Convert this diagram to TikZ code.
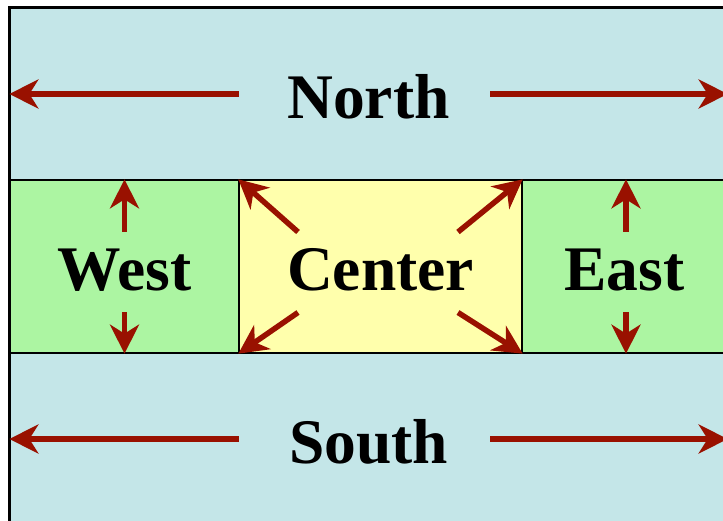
\documentclass[tikz,border=0pt]{standalone}
\usepackage{fontspec}
\setmainfont{Liberation Serif}
\usetikzlibrary{arrows.meta}
\definecolor{bandblue}{RGB}{196,230,232}
\definecolor{sidegreen}{RGB}{172,245,162}
\definecolor{midyellow}{RGB}{255,255,172}
\definecolor{arrowred}{RGB}{153,17,0}
\tikzset{
  region/.style={draw=black, line width=1.3pt, inner sep=0pt,
    text height=48.5pt, text depth=0pt,
    font=\fontsize{63.5}{63.5}\selectfont\bfseries},
  dir/.style={arrowred, line width=5.5pt,
    -{Stealth[length=29pt,width=29pt,inset=9pt]}},
}
\begin{document}
\begin{tikzpicture}[x=1pt,y=-1pt]
\useasboundingbox (0,0) rectangle (723,521);
\clip (0,0) rectangle (723,521);
% the five regions
\node[region, fill=bandblue, minimum width=717pt, minimum height=172pt] (north) at (368.5,94) {North};
\node[region, fill=bandblue, minimum width=717pt, minimum height=172pt] (south) at (368.5,439) {South};
\node[region, fill=sidegreen, minimum width=229pt, minimum height=173pt] (west) at (124.5,266.5) {West};
\node[region, fill=midyellow, minimum width=283pt, minimum height=173pt] (center) at (380.5,266.5) {Center};
\node[region, fill=sidegreen, minimum width=205pt, minimum height=173pt] (east) at (624.5,266.5) {East};
\draw[line width=2pt] (north.north west) rectangle (south.south east);
% stretch directions
\draw[dir] ([xshift=-130pt]north.center) -- (north.west);
\draw[dir] ([xshift=121.5pt]north.center) -- (north.east);
\draw[dir] ([xshift=-130pt]south.center) -- (south.west);
\draw[dir] ([xshift=121.5pt]south.center) -- (south.east);
\draw[dir] ([yshift=34.5pt]west.center) -- (west.north);
\draw[dir] ([yshift=-46pt]west.center) -- (west.south);
\draw[dir] ([xshift=1.5pt,yshift=34.5pt]east.center) -- ([xshift=1.5pt]east.north);
\draw[dir] ([xshift=1.5pt,yshift=-46pt]east.center) -- ([xshift=1.5pt]east.south);
\draw[dir] ([xshift=-82.5pt,yshift=34.5pt]center.center) -- (center.north west);
\draw[dir] ([xshift=77.5pt,yshift=34.5pt]center.center) -- (center.north east);
\draw[dir] ([xshift=-82.5pt,yshift=-46pt]center.center) -- (center.south west);
\draw[dir] ([xshift=77.5pt,yshift=-46pt]center.center) -- (center.south east);
\end{tikzpicture}
\end{document}
